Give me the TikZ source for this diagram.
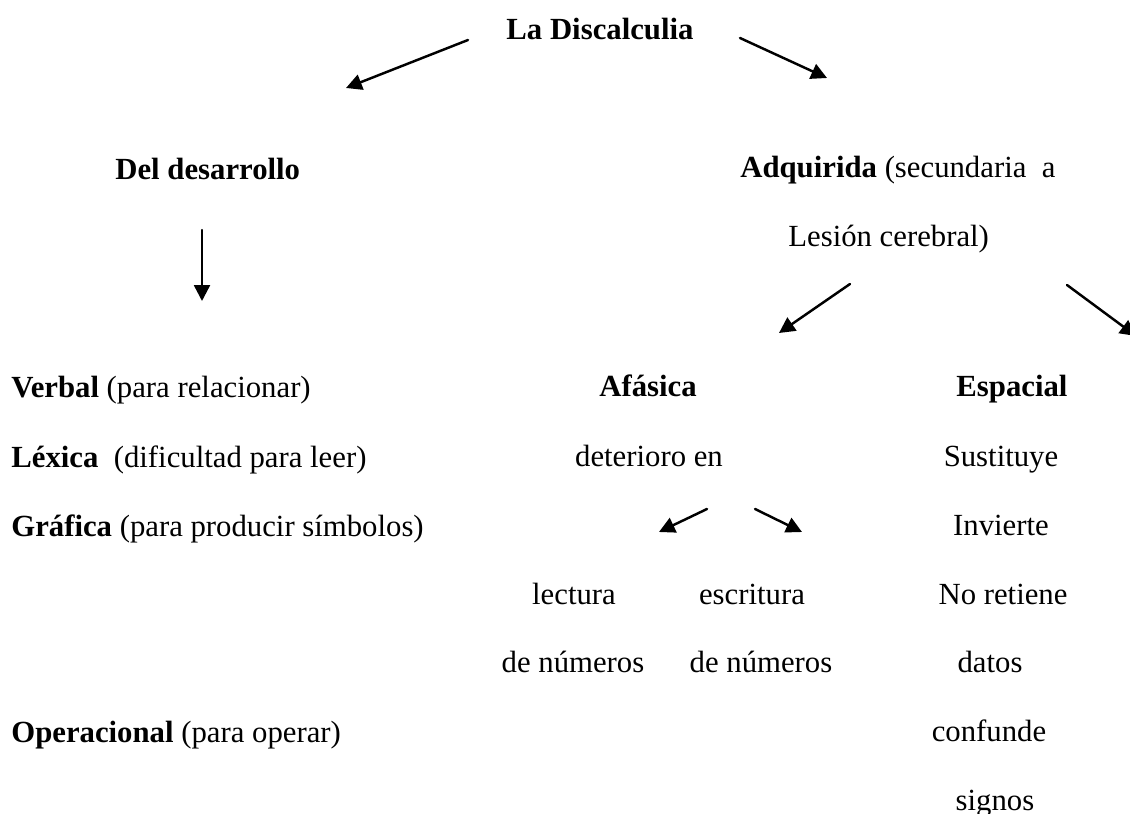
\documentclass[tikz,border=0pt]{standalone}
\usepackage{fontspec}
\setmainfont{Liberation Serif}
\usetikzlibrary{arrows.meta}

\begin{document}
\begin{tikzpicture}[line cap=round,line join=round,>={Triangle[length=9pt,width=9pt]},x=0.02cm,y=0.02cm,
    txt/.style={font=\fontsize{17.5}{21}\selectfont,inner sep=0pt,anchor=base},
    txtl/.style={txt,anchor=base west},
    flecha/.style={->,line width=1.4pt}]
                \useasboundingbox (0,0) rectangle (1130,-814);
                % titulo y dos ramas
                \node[txt] (disc) at (600,-40) {\textbf{La Discalculia}};
                \node[txtl] (desa) at (115,-180) {\textbf{Del desarrollo}};
                \node[txtl] (adq) at (740,-178) {\textbf{Adquirida} (secundaria\ \ a};
                \node[txtl] (lesion) at (788,-247) {Lesión cerebral)};
                % del desarrollo
                \node[txtl] (verbal) at (11,-398) {\textbf{Verbal} (para relacionar)};
                \node[txtl] (lexica) at (11,-467) {\textbf{Léxica}\ \ (dificultad para leer)};
                \node[txtl] (grafica) at (11,-536) {\textbf{Gráfica} (para producir símbolos)};
                \node[txtl] (operac) at (11,-742) {\textbf{Operacional} (para operar)};
                % adquirida: afasica
                \node[txt] (afasica) at (648,-397) {\textbf{Afásica}};
                \node[txt] (deter) at (649,-466) {deterioro en};
                \node[txt] (lect) at (574,-604) {lectura};
                \node[txt] (lectnum) at (573,-672) {de números};
                \node[txt] (escr) at (752,-604) {escritura};
                \node[txt] (escrnum) at (761,-672) {de números};
                % adquirida: espacial
                \node[txt] (espacial) at (1012,-397) {\textbf{Espacial}};
                \node[txt] (sust) at (1001,-466) {Sustituye};
                \node[txt] (inv) at (1001,-535) {Invierte};
                \node[txt] (noret) at (1003,-604) {No retiene};
                \node[txt] (datos) at (990,-672) {datos};
                \node[txt] (conf) at (989,-741) {confunde};
                \node[txt] (signos) at (995,-810) {signos};
                % extremos de las flechas
                \coordinate (a1) at (468,-40);
                \coordinate (b1) at (346,-88);
                \coordinate (a2) at (740,-38);
                \coordinate (b2) at (827,-78);
                \coordinate (a3) at (202,-230);
                \coordinate (b3) at (202,-301);
                \coordinate (a4) at (850,-284);
                \coordinate (b4) at (779,-333);
                \coordinate (a5) at (1067,-285);
                \coordinate (b5) at (1136,-336);
                \coordinate (a6) at (707,-509);
                \coordinate (b6) at (659,-532);
                \coordinate (a7) at (755,-509);
                \coordinate (b7) at (802,-532);
                \draw[flecha] (a1) -- (b1);
                \draw[flecha] (a2) -- (b2);
                \draw[flecha] (a3) -- (b3);
                \draw[flecha] (a4) -- (b4);
                \draw[flecha] (a5) -- (b5);
                \draw[flecha] (a6) -- (b6);
                \draw[flecha] (a7) -- (b7);
\end{tikzpicture}
\end{document}
